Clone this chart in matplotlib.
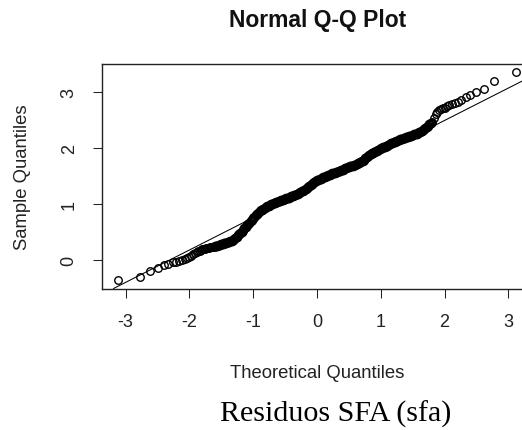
import matplotlib
matplotlib.use("Agg")
import matplotlib.pyplot as plt

# sorted residuals (sample quantiles) against normal quantiles
theoretical = [
    -3.12, -2.78, -2.61, -2.49, -2.40, -2.33, -2.26, -2.21, -2.16, -2.11,
    -2.07, -2.03, -2.00, -1.97, -1.94, -1.91,
    -1.88, -1.86, -1.84, -1.82, -1.80, -1.78, -1.76, -1.74, -1.72, -1.70,
    -1.68, -1.66, -1.64, -1.62, -1.60, -1.58, -1.56, -1.54, -1.52, -1.50,
    -1.48, -1.46, -1.44, -1.42, -1.40, -1.38, -1.36, -1.34, -1.32, -1.30,
    -1.28, -1.26, -1.24, -1.22, -1.20, -1.18, -1.16, -1.14, -1.12, -1.10,
    -1.08, -1.06, -1.04, -1.02, -1.00, -0.98, -0.96, -0.94, -0.92, -0.90,
    -0.88, -0.86, -0.84, -0.82, -0.80, -0.78, -0.76, -0.74, -0.72, -0.70,
    -0.68, -0.66, -0.64, -0.62, -0.60, -0.58, -0.56, -0.54, -0.52, -0.50,
    -0.48, -0.46, -0.44, -0.42, -0.40, -0.38, -0.36, -0.34, -0.32, -0.30,
    -0.28, -0.26, -0.24, -0.22, -0.20, -0.18, -0.16, -0.14, -0.12, -0.10,
    -0.08, -0.06, -0.04, -0.02, 0.00, 0.02, 0.04, 0.06, 0.08, 0.10,
    0.12, 0.14, 0.16, 0.18, 0.20, 0.22, 0.24, 0.26, 0.28, 0.30,
    0.32, 0.34, 0.36, 0.38, 0.40, 0.42, 0.44, 0.46, 0.48, 0.50,
    0.52, 0.54, 0.56, 0.58, 0.60, 0.62, 0.64, 0.66, 0.68, 0.70,
    0.72, 0.74, 0.76, 0.78, 0.80, 0.82, 0.84, 0.86, 0.88, 0.90,
    0.92, 0.94, 0.96, 0.98, 1.00, 1.02, 1.04, 1.06, 1.08, 1.10,
    1.12, 1.14, 1.16, 1.18, 1.20, 1.22, 1.24, 1.26, 1.28, 1.30,
    1.32, 1.34, 1.36, 1.38, 1.40, 1.42, 1.44, 1.46, 1.48, 1.50,
    1.52, 1.54, 1.56, 1.58, 1.60, 1.62, 1.64, 1.66, 1.68, 1.70,
    1.72, 1.74, 1.76, 1.78,
    1.81, 1.83, 1.86, 1.88, 1.91, 1.94, 1.97, 2.00, 2.03, 2.07,
    2.11, 2.16, 2.21, 2.26, 2.33, 2.40, 2.49, 2.61, 2.78, 3.12,
]
sample = [
    -0.37, -0.31, -0.21, -0.16, -0.10, -0.08, -0.05, -0.04, -0.02, -0.01,
    0.01, 0.02, 0.05, 0.07, 0.09, 0.11,
    0.13, 0.15, 0.16, 0.17, 0.18, 0.19, 0.19, 0.20, 0.20, 0.21,
    0.22, 0.22, 0.23, 0.23, 0.24, 0.25, 0.25, 0.26, 0.26, 0.27,
    0.28, 0.29, 0.29, 0.30, 0.31, 0.32, 0.33, 0.34, 0.35, 0.36,
    0.38, 0.40, 0.43, 0.45, 0.48, 0.50, 0.53, 0.56, 0.58, 0.61,
    0.63, 0.66, 0.69, 0.71, 0.74, 0.76, 0.79, 0.81, 0.84, 0.86,
    0.88, 0.89, 0.91, 0.92, 0.94, 0.95, 0.96, 0.98, 0.99, 1.00,
    1.01, 1.02, 1.03, 1.03, 1.04, 1.05, 1.06, 1.07, 1.08, 1.09,
    1.10, 1.10, 1.11, 1.12, 1.13, 1.14, 1.15, 1.16, 1.17, 1.18,
    1.19, 1.20, 1.22, 1.23, 1.25, 1.26, 1.28, 1.30, 1.31, 1.33,
    1.35, 1.37, 1.38, 1.40, 1.42, 1.43, 1.45, 1.45, 1.46, 1.47,
    1.48, 1.49, 1.50, 1.51, 1.52, 1.53, 1.54, 1.55, 1.55, 1.56,
    1.57, 1.58, 1.59, 1.60, 1.61, 1.62, 1.63, 1.64, 1.65, 1.66,
    1.67, 1.67, 1.68, 1.69, 1.70, 1.71, 1.72, 1.73, 1.74, 1.76,
    1.77, 1.79, 1.82, 1.84, 1.86, 1.87, 1.89, 1.90, 1.91, 1.93,
    1.94, 1.95, 1.96, 1.97, 1.99, 2.00, 2.01, 2.02, 2.03, 2.04,
    2.05, 2.07, 2.08, 2.09, 2.10, 2.11, 2.12, 2.13, 2.14, 2.15,
    2.15, 2.16, 2.17, 2.18, 2.19, 2.20, 2.21, 2.22, 2.22, 2.23,
    2.24, 2.24, 2.25, 2.26, 2.28, 2.29, 2.30, 2.32, 2.34, 2.35,
    2.37, 2.39, 2.42, 2.44,
    2.47, 2.53, 2.60, 2.64, 2.67, 2.69, 2.71, 2.72, 2.74, 2.76,
    2.78, 2.80, 2.82, 2.85, 2.91, 2.95, 2.99, 3.05, 3.20, 3.36,
]

# reference line (qqline)
qq_intercept = 1.33
qq_slope = 0.58

x_ticks = [-3, -2, -1, 0, 1, 2, 3]
y_ticks = [0, 1, 2, 3]

W, H = 522, 431
plt.rcParams['font.family'] = ['Liberation Sans', 'DejaVu Sans']
plt.rcParams['axes.unicode_minus'] = False

fig = plt.figure(figsize=(W / 100, H / 100), dpi=100)
# plot region runs past the right edge, like the cropped original
ax = fig.add_axes([102 / W, (H - 289.5) / H, 430 / W, 225 / H])

circle = dict(linestyle='none', marker='o', markersize=5.4,
              markerfacecolor='none', markeredgecolor='black')
# the crowded middle overlaps into a solid band in the original
lo, hi = 30, len(theoretical) - 20
ax.plot(theoretical[:lo], sample[:lo], markeredgewidth=1.0, **circle)
ax.plot(theoretical[lo:hi], sample[lo:hi], markeredgewidth=1.6, **circle)
ax.plot(theoretical[hi:], sample[hi:], markeredgewidth=1.0, **circle)
ax.axline((0, qq_intercept), slope=qq_slope, color='black', linewidth=0.75)

# R style 4% padding around the data range
tpad = 0.04 * (max(theoretical) - min(theoretical))
spad = 0.04 * (max(sample) - min(sample))
ax.set_xlim(min(theoretical) - tpad, max(theoretical) + tpad)
ax.set_ylim(min(sample) - spad, max(sample) + spad)

ax.set_xticks(x_ticks)
ax.set_yticks(y_ticks)
ax.tick_params(direction='out', length=6.5, width=0.75, color='#222222',
               labelsize=13, labelcolor='#222222', pad=11)
ax.tick_params(axis='y', labelrotation=90)
for lab in ax.get_yticklabels():
    lab.set_verticalalignment('center')
for sp in ax.spines.values():
    sp.set_color('#222222')
    sp.set_linewidth(1.0)

fig.text(317.5 / W, 1 - 26.5 / H, 'Normal Q-Q Plot', ha='center',
         va='baseline', fontsize=16.5, fontweight='bold', color='#111111')
fig.text(317.5 / W, 1 - 378.5 / H, 'Theoretical Quantiles', ha='center',
         va='baseline', fontsize=13.3, color='#222222')
fig.text(22.5 / W, 1 - 177 / H, 'Sample Quantiles', ha='center',
         va='center', rotation=90, fontsize=13.3, color='#222222')
fig.text(335.5 / W, 1 - 421.5 / H, 'Residuos SFA (sfa)', ha='center',
         va='baseline', fontsize=21.6, family='Liberation Serif', color='black')

fig.savefig('out.png', dpi=100)
